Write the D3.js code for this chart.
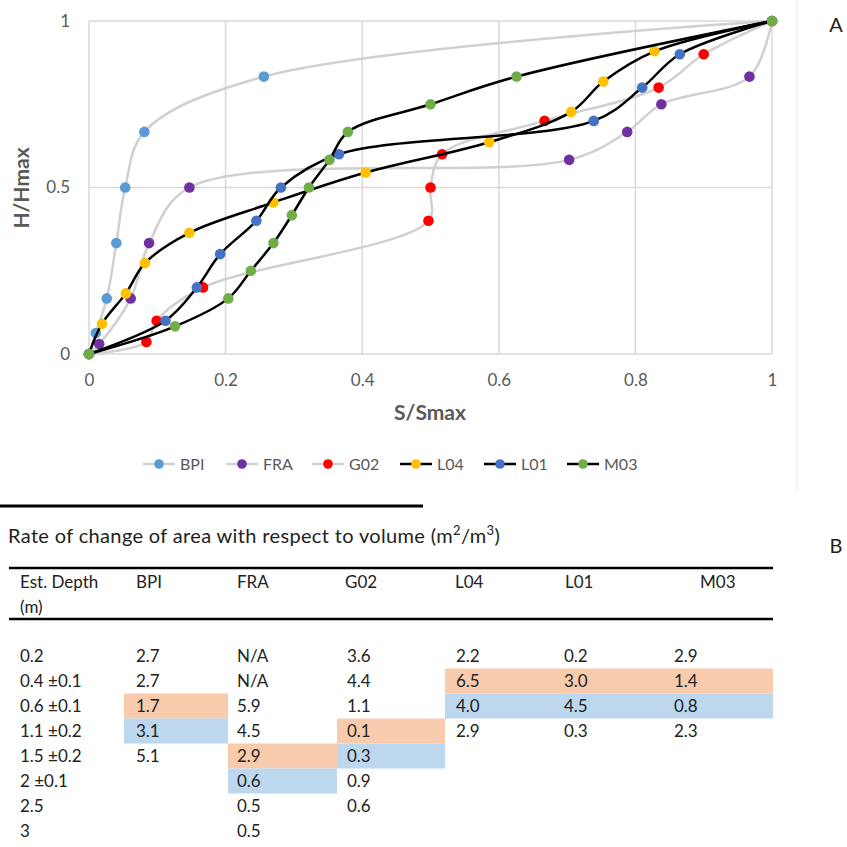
<!DOCTYPE html>
<html><head><meta charset="utf-8">
<script src="https://cdn.jsdelivr.net/npm/d3@7"></script>
<style>body{margin:0;background:#fff}svg{display:block}</style>
</head><body><svg id="c" width="847" height="847"></svg>
<script>
// ---- chart data (S/Smax, H/Hmax) ----
const seriesNames = ["BPI","FRA","G02","L04","L01","M03"];
const seriesColors = ["#5B9BD5","#7030A0","#FF0000","#FFC000","#4472C4","#70AD47"];
const lineColors = ["#D0D0D0","#D0D0D0","#D0D0D0","#000000","#000000","#000000"];
const bpiS = [0, 0.010, 0.026, 0.040, 0.053, 0.081, 0.256, 1];
const bpiH = [0, 0.063, 0.167, 0.333, 0.5, 0.667, 0.833, 1];
const fraS = [0, 0.015, 0.061, 0.088, 0.147, 0.703, 0.788, 0.838, 0.967, 1];
const fraH = [0, 0.03, 0.167, 0.333, 0.5, 0.583, 0.667, 0.75, 0.833, 1];
const g02S = [0, 0.084, 0.099, 0.167, 0.497, 0.5, 0.517, 0.667, 0.834, 0.9, 1];
const g02H = [0, 0.036, 0.1, 0.2, 0.4, 0.5, 0.6, 0.7, 0.8, 0.9, 1];
const l04S = [0, 0.019, 0.054, 0.082, 0.147, 0.270, 0.405, 0.586, 0.706, 0.753, 0.828, 1];
const l04H = [0, 0.091, 0.182, 0.273, 0.364, 0.455, 0.545, 0.636, 0.727, 0.818, 0.909, 1];
const l01S = [0, 0.112, 0.158, 0.192, 0.245, 0.281, 0.366, 0.739, 0.810, 0.865, 1];
const l01H = [0, 0.1, 0.2, 0.3, 0.4, 0.5, 0.6, 0.7, 0.8, 0.9, 1];
const m03S = [0, 0.126, 0.204, 0.237, 0.270, 0.297, 0.322, 0.352, 0.379, 0.500, 0.626, 1];
const m03H = [0, 0.083, 0.167, 0.25, 0.333, 0.417, 0.5, 0.583, 0.667, 0.75, 0.833, 1];
const xTicks = [0, 0.2, 0.4, 0.6, 0.8, 1];
const yTicks = [0, 0.5, 1];

// ---- table data ----
const tableTitle = "Rate of change of area with respect to volume (m";
const depths = ["0.2","0.4 \u00b10.1","0.6 \u00b10.1","1.1 \u00b10.2","1.5 \u00b10.2","2 \u00b10.1","2.5","3"];
const colBPI = ["2.7","2.7","1.7","3.1","5.1","","",""];
const colFRA = ["N/A","N/A","5.9","4.5","2.9","0.6","0.5","0.5"];
const colG02 = ["3.6","4.4","1.1","0.1","0.3","0.9","0.6",""];
const colL04 = ["2.2","6.5","4.0","2.9","","","",""];
const colL01 = ["0.2","3.0","4.5","0.3","","","",""];
const colM03 = ["2.9","1.4","0.8","2.3","","","",""];
const orangeRow = [2,4,3,1,1,1];   // highlighted (orange) row per column
const blueRow = [3,5,4,2,2,2];     // highlighted (blue) row per column

const svg = d3.select("#c");
const FONT = "Lato, 'Open Sans', sans-serif";
const seriesS = [bpiS,fraS,g02S,l04S,l01S,m03S];
const seriesH = [bpiH,fraH,g02H,l04H,l01H,m03H];

// chart-area faint border
svg.append("line").attr("x1",797).attr("x2",797).attr("y1",0).attr("y2",490).attr("stroke","#efefef").attr("stroke-width",1.5);

const x = d3.scaleLinear().domain([0,1]).range([89,772]);
const y = d3.scaleLinear().domain([0,1]).range([354,21]);

const g = svg.append("g");
g.selectAll(".vg").data(xTicks).join("line")
  .attr("x1",d=>x(d)).attr("x2",d=>x(d)).attr("y1",y(0)).attr("y2",y(1))
  .attr("stroke","#D9D9D9").attr("stroke-width",1.5);
g.selectAll(".hg").data(yTicks).join("line")
  .attr("x1",x(0)).attr("x2",x(1)).attr("y1",d=>y(d)).attr("y2",d=>y(d))
  .attr("stroke","#D9D9D9").attr("stroke-width",1.5);

const xAxis = d3.axisBottom(x).tickValues(xTicks).tickSize(0).tickPadding(0).tickFormat(d=>d3.format("")(d));
const xa = svg.append("g").attr("transform","translate(0,374)").call(xAxis);
xa.select(".domain").remove();
xa.selectAll("text").attr("font-family",FONT).attr("font-size",17).attr("fill","#595959");
const yAxis = d3.axisLeft(y).tickValues(yTicks).tickSize(0).tickPadding(0).tickFormat(d=>d3.format("")(d));
const ya = svg.append("g").attr("transform","translate(70,0)").call(yAxis);
ya.select(".domain").remove();
ya.selectAll("text").attr("font-family",FONT).attr("font-size",17).attr("fill","#595959");

svg.append("text").attr("x",430).attr("y",420).attr("text-anchor","middle")
  .attr("font-family",FONT).attr("font-size",21).attr("font-weight","bold").attr("fill","#595959").text("S/Smax");
svg.append("text").attr("transform","translate(29,188) rotate(-90)").attr("text-anchor","middle")
  .attr("font-family",FONT).attr("font-size",21).attr("font-weight","bold").attr("fill","#595959").text("H/Hmax");

// series
const line = d3.line().x(d=>x(d[0])).y(d=>y(d[1])).curve(d3.curveCatmullRom.alpha(0.5));
seriesNames.forEach((n,i)=>{
  const pts = seriesS[i].map((s,j)=>[s,seriesH[i][j]]);
  const sg = svg.append("g");
  sg.append("path").attr("d",line(pts)).attr("fill","none").attr("stroke",lineColors[i]).attr("stroke-width",2.5);
  sg.selectAll("circle").data(pts).join("circle").attr("cx",d=>x(d[0])).attr("cy",d=>y(d[1])).attr("r",5.3).attr("fill",seriesColors[i]);
});

// legend
const legX = [143,226,312,400,484,567];
seriesNames.forEach((n,i)=>{
  const lg = svg.append("g").attr("transform",`translate(${legX[i]},464)`);
  lg.append("line").attr("x1",0).attr("x2",32).attr("stroke",lineColors[i]).attr("stroke-width",2.5);
  lg.append("circle").attr("cx",16).attr("r",4.8).attr("fill",seriesColors[i]);
  lg.append("text").attr("x",37).attr("y",0).attr("dy","0.35em").attr("font-family",FONT).attr("font-size",16).attr("fill","#595959").text(n);
});

// panel labels
svg.append("text").attr("x",836).attr("y",25).attr("dy","0.35em").attr("text-anchor","middle").attr("font-family",FONT).attr("font-size",20).attr("fill","#222").text("A");
svg.append("text").attr("x",836).attr("y",546).attr("dy","0.35em").attr("text-anchor","middle").attr("font-family",FONT).attr("font-size",20).attr("fill","#222").text("B");

// ---- table ----
svg.append("line").attr("x1",0).attr("x2",423).attr("y1",506).attr("y2",506).attr("stroke","#000").attr("stroke-width",3);
const tt = svg.append("text").attr("x",8).attr("y",543).attr("font-family",FONT).attr("font-size",20).attr("fill","#222");
tt.append("tspan").text(tableTitle);
tt.append("tspan").attr("font-size",13).attr("dy",-8).text("2");
tt.append("tspan").attr("dy",8).text("/m");
tt.append("tspan").attr("font-size",13).attr("dy",-8).text("3");
tt.append("tspan").attr("dy",8).text(")");
const tw = tt.node().getBBox().width;
const nch = tt.text().length;
const ls = (492 - tw)/nch;
if (Math.abs(ls) > 0.05) tt.attr("letter-spacing", ls.toFixed(2));

svg.append("line").attr("x1",9).attr("x2",773).attr("y1",568).attr("y2",568).attr("stroke","#000").attr("stroke-width",2.5);
svg.append("line").attr("x1",9).attr("x2",773).attr("y1",619).attr("y2",619).attr("stroke","#000").attr("stroke-width",2.5);

const cols = [colBPI,colFRA,colG02,colL04,colL01,colM03];
const colX = [136,237,347,456,564,674];
const headX = [136,237,345,455,565,700];
const bandL = [124,228,337,445,555,665];
const bandR = [228,337,445,555,665,773];
const rowY = i => 656 + 25*i;
const tcol = "#222";

cols.forEach((c,i)=>{
  svg.append("rect").attr("x",bandL[i]).attr("y",rowY(orangeRow[i])-12.5).attr("width",bandR[i]-bandL[i]).attr("height",25).attr("fill","#F8CBAD");
  svg.append("rect").attr("x",bandL[i]).attr("y",rowY(blueRow[i])-12.5).attr("width",bandR[i]-bandL[i]).attr("height",25).attr("fill","#BDD7EE");
});

const tf = (sel)=>sel.attr("font-family",FONT).attr("font-size",17).attr("fill",tcol).attr("dy","0.35em");
tf(svg.append("text").attr("x",20).attr("y",582).text("Est. Depth"));
tf(svg.append("text").attr("x",20).attr("y",607).text("(m)"));
seriesNames.forEach((n,i)=>tf(svg.append("text").attr("x",headX[i]).attr("y",582).text(n)));

depths.forEach((d,r)=>tf(svg.append("text").attr("x",20).attr("y",rowY(r)).text(d)));
cols.forEach((c,i)=>{
  c.forEach((v,r)=>{ if(v) tf(svg.append("text").attr("x",colX[i]).attr("y",rowY(r)).text(v)); });
});
</script></body></html>
